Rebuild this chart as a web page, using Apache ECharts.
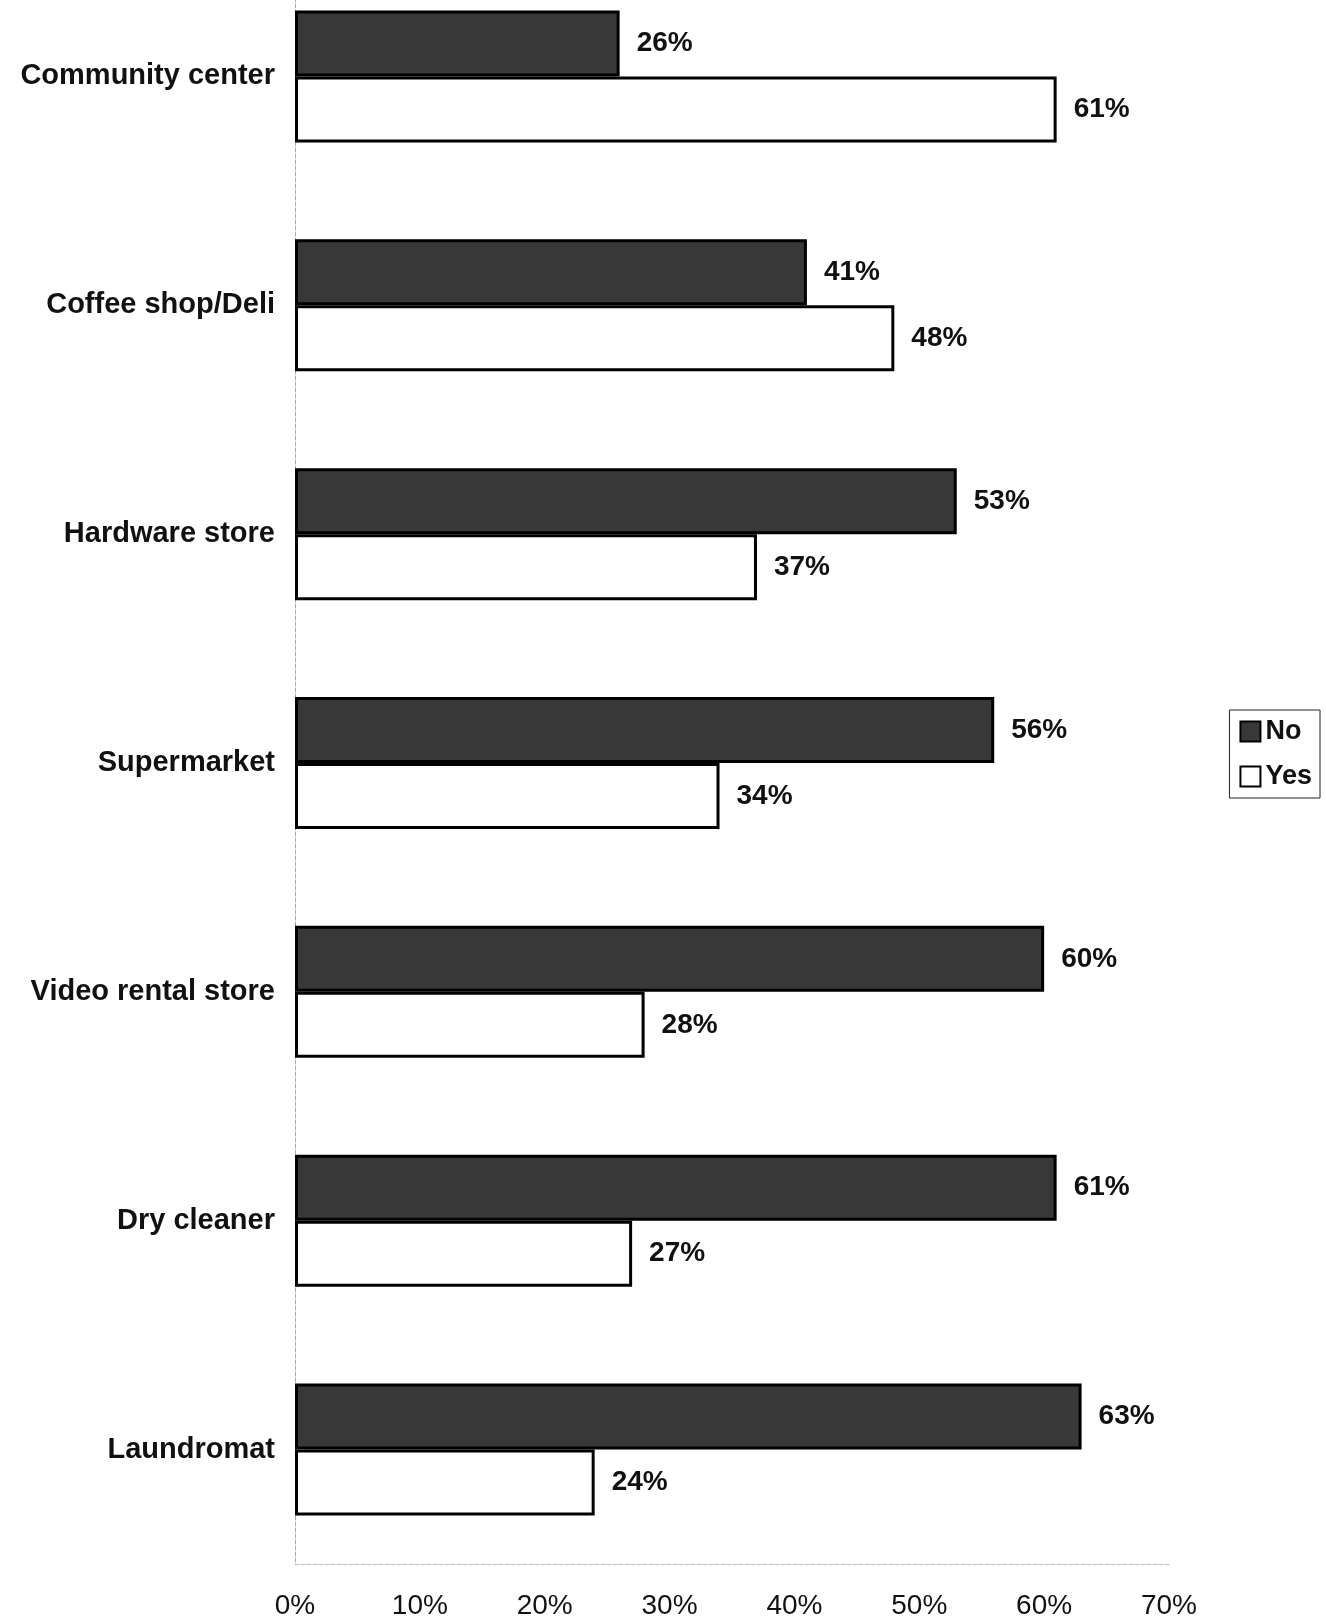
<!DOCTYPE html>
<html>
<head>
<meta charset="utf-8">
<style>
  html, body { margin: 0; padding: 0; background: #fff; overflow: hidden; }
  body { position: relative; width: 1326px; height: 1622px; }
  /* plot starts above the page edge, the reference is cropped at the top */
  #chart { position: absolute; left: 0; top: -38px; width: 1326px; height: 1660px; }
</style>
<script src="https://cdn.jsdelivr.net/npm/echarts@6/dist/echarts.min.js"></script>
</head>
<body>
<div id="chart"></div>
<script>
var categories = ['Community center', 'Coffee shop/Deli', 'Hardware store', 'Supermarket', 'Video rental store', 'Dry cleaner', 'Laundromat']
var noValues = [26, 41, 53, 56, 60, 61, 63]
var yesValues = [61, 48, 37, 34, 28, 27, 24]

var chart = echarts.init(document.getElementById('chart'))

var valueLabel = {
  show: true,
  position: 'right',
  distance: 17,
  formatter: '{c}%',
  color: '#111',
  fontFamily: 'Liberation Sans, Arial',
  fontWeight: 'bold',
  fontSize: 28
}

chart.setOption({
  backgroundColor: '#fff',
  animation: false,
  legend: {
    orient: 'vertical',
    right: 6,
    top: 748,
    padding: [8, 8, 8, 10],
    borderColor: '#222',
    borderWidth: 1,
    itemGap: 18,
    itemWidth: 20,
    itemHeight: 20,
    icon: 'rect',
    textStyle: {
      fontFamily: 'Liberation Sans, Arial',
      fontWeight: 'bold',
      fontSize: 27,
      color: '#111'
    },
    data: ['No', 'Yes']
  },
  grid: {
    left: 295,
    right: 157,
    top: 0,
    bottom: 58
  },
  xAxis: {
    type: 'value',
    min: 0,
    max: 70,
    interval: 10,
    axisLine: {
      show: true,
      lineStyle: { color: '#bbb', type: 'dashed', width: 1 }
    },
    axisTick: { show: false },
    splitLine: { show: false },
    axisLabel: {
      formatter: '{value}%',
      margin: 28,
      fontFamily: 'Liberation Sans Narrow, Arial Narrow, Liberation Sans',
      fontSize: 28,
      color: '#111'
    }
  },
  yAxis: {
    type: 'category',
    inverse: true,
    data: categories,
    axisLine: {
      show: true,
      lineStyle: { color: '#aaa', type: 'dashed', width: 1 }
    },
    axisTick: { show: false },
    axisLabel: {
      margin: 20,
      fontFamily: 'Liberation Sans, Arial',
      fontWeight: 'bold',
      fontSize: 29,
      color: '#111'
    }
  },
  series: [
    {
      name: 'No',
      type: 'bar',
      barWidth: 66,
      barGap: '0%',
      itemStyle: {
        color: '#383838',
        borderColor: '#000',
        borderWidth: 3
      },
      label: valueLabel,
      data: noValues
    },
    {
      name: 'Yes',
      type: 'bar',
      barWidth: 66,
      barGap: '0%',
      itemStyle: {
        color: '#fff',
        borderColor: '#000',
        borderWidth: 3
      },
      label: valueLabel,
      data: yesValues
    }
  ]
})
</script>
</body>
</html>
